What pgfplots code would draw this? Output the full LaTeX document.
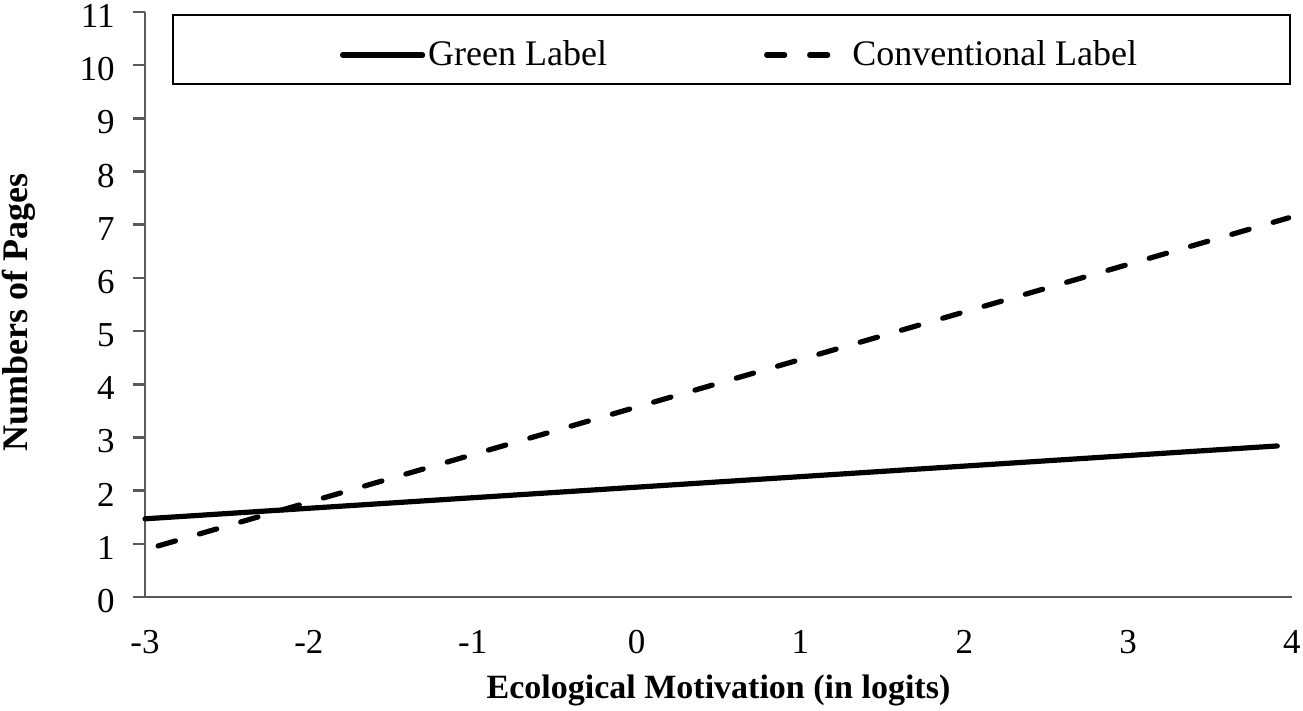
\documentclass[border=0pt]{standalone}
\usepackage{fontspec}
\setmainfont{Liberation Serif}
\usepackage{pgfplots}
\pgfplotsset{compat=1.18}
\definecolor{axgray}{HTML}{595959}
\begin{document}
\begin{tikzpicture}
\begin{axis}[
  scale only axis,
  width=573.5pt, height=292.5pt,
  xmin=-3, xmax=4, ymin=0, ymax=11,
  axis lines=left,
  axis line style={axgray, line width=1.3pt, -},
  xtick={-3,-2,-1,0,1,2,3,4},
  xticklabels={-3,-2,-1,0,1,2,3,4},
  ytick={0,1,2,3,4,5,6,7,8,9,10,11},
  yticklabels={0,1,2,3,4,5,6,7,8,9,10,11},
  x tick style={draw=none},
  y tick style={axgray, line width=1.3pt},
  tick align=outside,
  major tick length=6pt,
  ticklabel style={font=\fontsize{17.5}{20}\selectfont},
  xticklabel style={anchor=center, yshift=-16.5pt},
  yticklabel style={anchor=east, inner sep=0pt, xshift=-9pt, yshift=-2pt},
  xlabel={\textbf{Ecological Motivation (in logits)}},
  ylabel={\textbf{Numbers of Pages}},
  xlabel style={font=\fontsize{17}{20}\selectfont, at={(axis description cs:0.5,0)}, anchor=center, yshift=-46.5pt},
  ylabel style={font=\fontsize{18}{21}\selectfont, at={(axis description cs:-0.1099,0.486)}, anchor=center},
  clip=false,
  legend columns=2,
  legend style={draw=none, fill=none, at={(axis description cs:0.170,0.9265)}, anchor=west,
    inner sep=0pt, outer sep=0pt,
    font=\fontsize{18}{21}\selectfont,
    nodes={inner sep=1.5pt},
    /tikz/every even column/.append style={column sep=77pt}},
  legend image code/.code={\draw[#1] (0pt,0pt) -- (40pt,0pt);},
]
\draw[black, line width=0.9pt] (axis cs:-2.829,9.65) rectangle (axis cs:3.99,10.94);
\addplot[black, line width=2.6pt, line cap=round] coordinates {(-3,1.47) (3.91,2.84)};
\addlegendentry{Green Label}
\addplot[black, line width=2.6pt, line cap=round, dash pattern=on 9pt off 12.5pt] coordinates {(-2.92,0.96) (3.98,7.13)};
\addlegendentry{Conventional Label}
\end{axis}
\pgfresetboundingbox
\path (-72.5pt,-57pt) rectangle (579pt,298.5pt);
\end{tikzpicture}
\end{document}
